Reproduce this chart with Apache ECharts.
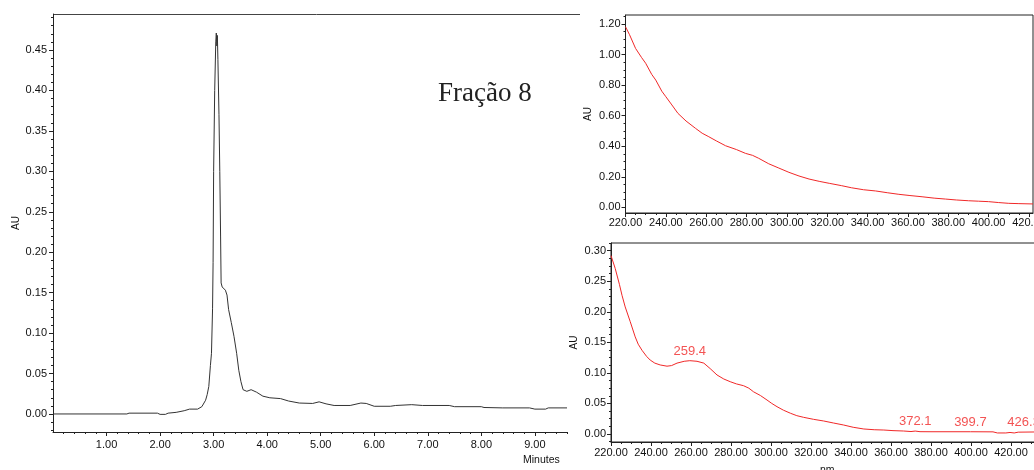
<!DOCTYPE html>
<html><head><meta charset="utf-8">
<script src="https://cdn.jsdelivr.net/npm/echarts@6/dist/echarts.min.js"></script>
<style>html,body{margin:0;padding:0;background:#fff}#c{width:1034px;height:470px}</style>
</head><body><div id="c"></div>
<script>
// ---- Chromatogram (left) ----
const chromTime = [0,1.38,1.42,1.95,2.0,2.1,2.15,2.3,2.45,2.55,2.7,2.78,2.85,2.88,2.91,2.94,2.96,2.98,2.99,3.00,3.02,3.04,3.05,3.06,3.07,3.08,3.1,3.115,3.13,3.14,3.16,3.19,3.22,3.25,3.28,3.33,3.38,3.43,3.47,3.51,3.55,3.58,3.62,3.7,3.8,3.92,4.05,4.25,4.4,4.6,4.85,4.97,5.1,5.25,5.55,5.75,5.85,6.0,6.3,6.4,6.7,6.9,7.4,7.5,8.0,8.05,8.4,8.9,9.0,9.2,9.25,9.6];
const chromAU   = [0,0,0.001,0.001,-0.0005,-0.0005,0.001,0.002,0.004,0.006,0.006,0.009,0.017,0.024,0.034,0.06,0.075,0.13,0.187,0.30,0.40,0.46,0.471,0.455,0.468,0.438,0.37,0.30,0.22,0.162,0.157,0.155,0.153,0.147,0.129,0.113,0.096,0.075,0.054,0.04,0.030,0.028,0.028,0.03,0.027,0.022,0.020,0.019,0.016,0.0135,0.013,0.015,0.0125,0.0105,0.0105,0.0135,0.013,0.0095,0.0095,0.0105,0.0115,0.0105,0.0105,0.009,0.009,0.008,0.0075,0.0075,0.006,0.006,0.0075,0.0075];
const chromXTicks = [1,2,3,4,5,6,7,8,9];
const chromYTicks = [0,0.05,0.10,0.15,0.20,0.25,0.30,0.35,0.40,0.45];

// ---- Spectrum top-right ----
const spec1Nm = [220,222,225,228,230,233,235,238,240,243,246,250,254.7,258,261.3,265,269.6,275,279.5,283,286,291,296,301,306,311,316,321,327,332,338,344,350,355.5,361,367,373,378.6,384,390,395,400,405,410,415,422];
const spec1AU = [1.182,1.13,1.04,0.98,0.943,0.87,0.833,0.76,0.724,0.67,0.615,0.565,0.517,0.485,0.462,0.435,0.403,0.378,0.353,0.34,0.321,0.285,0.257,0.229,0.205,0.185,0.17,0.157,0.142,0.128,0.115,0.107,0.095,0.085,0.077,0.069,0.06,0.054,0.048,0.043,0.04,0.037,0.031,0.026,0.024,0.022];
const spec1YTicks = [0,0.2,0.4,0.6,0.8,1.0,1.2];

// ---- Spectrum bottom-right ----
const spec2Nm = [220,222.1,224.2,225.5,227.1,229.6,232.1,233.6,235.5,237.8,239.6,241.9,244.6,248.0,250.3,253.0,256.6,259.4,263.0,266.4,269.6,273.0,276.4,279.6,282.7,286.3,288.9,291.3,294.7,298.0,300.4,303.0,306.2,309.7,312.9,316.3,321.3,326.3,331.2,336.3,341.1,346.4,351.6,356.4,361.0,366.3,370,372.1,374.5,380,399.7,411,413.2,417.4,419.5,421.6,423.6,432];
const spec2AU = [0.292,0.271,0.245,0.227,0.208,0.184,0.159,0.147,0.137,0.127,0.121,0.116,0.113,0.111,0.112,0.116,0.119,0.120,0.119,0.116,0.107,0.0966,0.09,0.0856,0.082,0.079,0.075,0.069,0.063,0.0556,0.05,0.0447,0.039,0.034,0.030,0.0273,0.024,0.0213,0.018,0.0147,0.011,0.0082,0.007,0.0065,0.0055,0.0049,0.004,0.0048,0.0038,0.0037,0.0037,0.0035,0.0017,0.0017,0.0025,0.0017,0.003,0.0033];
const spec2YTicks = [0,0.05,0.10,0.15,0.20,0.25,0.30];
const specXTicks = [220,240,260,280,300,320,340,360,380,400,420];
const peakNm = [259.4,372.1,399.7,426.3];
const peakAU = [0.120,0.0048,0.0037,0.0033];
const peakLabels = ['259.4','372.1','399.7','426.3'];

// ---- helpers ----
const zip = (a,b) => a.map((v,i)=>[v,b[i]]);
function minors(start, end, step, majors){
  const out=[]; const n=Math.round((end-start)/step);
  for(let i=0;i<=n;i++){const v=+(start+i*step).toFixed(6);
    if(!majors.some(m=>Math.abs(m-v)<1e-9)) out.push(v);}
  return out;
}
const FONT = 'Arial, "Liberation Sans", sans-serif';
const AX = '#222';
const TXT = '#111';
const RED = '#f02828';

const chromX = {min:0,max:9.6}, chromY = {min:-0.0223,max:0.4945};
const s1X = {min:220,max:422.0}, s1Y = {min:-0.0373,max:1.259};
const s2X = {min:220,max:432.0}, s2Y = {min:-0.0131,max:0.3126};

function mainAxis(grid, ext, ticks, fontSize, margin, pos, extra){
  return Object.assign({
    type:'value', gridIndex:grid, min:ext.min, max:ext.max, position:pos,
    axisLine:{show:true,onZero:false,lineStyle:{color:AX,width:1}},
    axisTick:{show:true,length:4,customValues:ticks,lineStyle:{color:AX}},
    axisLabel:{show:true,customValues:ticks,fontSize:fontSize,fontFamily:FONT,color:TXT,margin:margin,
      hideOverlap:false, formatter:v=>v.toFixed(2)},
    splitLine:{show:false}
  }, extra||{});
}
function minorAxis(grid, ext, vals, pos){
  return {type:'value', gridIndex:grid, min:ext.min, max:ext.max, position:pos,
    axisLine:{show:false,onZero:false}, axisLabel:{show:false}, splitLine:{show:false},
    axisTick:{show:true,length:2,customValues:vals,lineStyle:{color:AX}}};
}
const nameStyle = {fontSize:10,fontFamily:FONT,color:TXT};

const option = {
  animation:false,
  backgroundColor:'#fff',
  grid:[
    {left:53, top:14, width:514, height:418, outerBoundsMode:'none', containLabel:false},
    {left:625.5, top:15, width:407.5, height:198, show:true, borderColor:AX, borderWidth:1, outerBoundsMode:'none', containLabel:false},
    {left:611, top:243, width:424, height:199, show:true, borderColor:AX, borderWidth:1, outerBoundsMode:'none', containLabel:false}
  ],
  xAxis:[
    mainAxis(0,chromX,chromXTicks,11,7,'bottom'),
    mainAxis(1,s1X,specXTicks,11,4,'bottom'),
    mainAxis(2,s2X,specXTicks,11,5,'bottom'),
    minorAxis(0,chromX,minors(0.2,9.6,0.2,chromXTicks),'bottom'),
    minorAxis(1,s1X,minors(220,420,5,specXTicks),'bottom'),
    minorAxis(2,s2X,minors(220,430,5,specXTicks),'bottom')
  ],
  yAxis:[
    mainAxis(0,chromY,chromYTicks,11,6,'left',{name:'AU',nameLocation:'middle',nameGap:32,nameTextStyle:nameStyle}),
    mainAxis(1,s1Y,spec1YTicks,11,5,'left',{name:'AU',nameLocation:'middle',nameGap:32,nameTextStyle:nameStyle}),
    mainAxis(2,s2Y,spec2YTicks,11,5,'left',{name:'AU',nameLocation:'middle',nameGap:32,nameTextStyle:nameStyle}),
    minorAxis(0,chromY,minors(-0.02,0.49,0.01,chromYTicks),'left'),
    minorAxis(1,s1Y,minors(0,1.25,0.05,spec1YTicks),'left'),
    minorAxis(2,s2Y,minors(-0.0125,0.3125,0.0125,spec2YTicks),'left')
  ],
  series:[
    {type:'line', xAxisIndex:0, yAxisIndex:0, data:zip(chromTime,chromAU), showSymbol:false, smooth:false,
      lineStyle:{color:'#333',width:1}},
    {type:'line', xAxisIndex:1, yAxisIndex:1, data:zip(spec1Nm,spec1AU), showSymbol:false,
      lineStyle:{color:RED,width:1}},
    {type:'line', xAxisIndex:2, yAxisIndex:2, data:zip(spec2Nm,spec2AU), showSymbol:false,
      lineStyle:{color:RED,width:1}},
    {type:'scatter', xAxisIndex:2, yAxisIndex:2, clip:false, symbolSize:0,
      data:zip(peakNm,peakAU),
      label:{show:true, position:'top', distance:3, color:RED, fontSize:13, fontFamily:FONT,
        formatter:p=>peakLabels[p.dataIndex]}}
  ],
  graphic:[
    {type:'line', shape:{x1:53,y1:14.5,x2:580,y2:14.5}, style:{stroke:'#444',lineWidth:1}},
    {type:'text', left:438, top:80, style:{text:'Fração 8', font:'27px "Times New Roman", "Liberation Serif", serif', fill:'#222'}},
    {type:'text', left:523, top:455, style:{text:'Minutes', font:'10.5px Arial, "Liberation Sans", sans-serif', fill:TXT}},
    {type:'text', left:820, top:465, style:{text:'nm', font:'10.5px Arial, "Liberation Sans", sans-serif', fill:TXT}}
  ]
};
echarts.init(document.getElementById('c'),null,{renderer:'canvas'}).setOption(option);
</script></body></html>
